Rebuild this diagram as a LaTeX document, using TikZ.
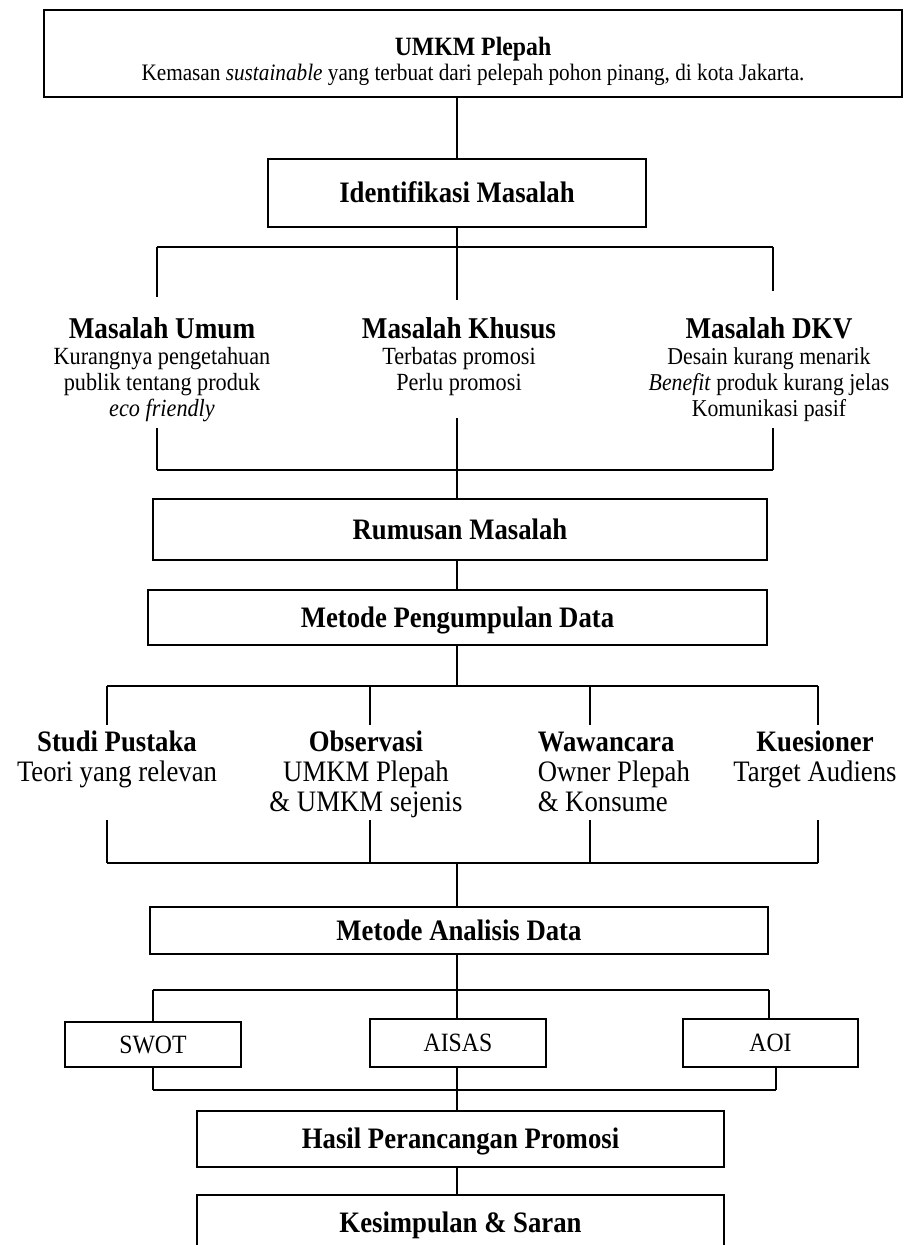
\documentclass[tikz,border=0pt]{standalone}
\usepackage{fontspec}
\setmainfont{Liberation Serif}[FakeStretch=0.9]
\newcommand{\fs}[1]{\fontsize{#1}{#1}\selectfont}
\newcommand{\cstack}[2][26pt]{\vtop{\baselineskip=#1\relax\lineskiplimit=-100pt\lineskip=0pt\halign{\hfil##\hfil\cr#2\crcr}}}
\newcommand{\lstack}[2][26pt]{\vtop{\baselineskip=#1\relax\lineskiplimit=-100pt\lineskip=0pt\halign{##\hfil\cr#2\crcr}}}
\begin{document}
\begin{tikzpicture}[x=1pt,y=-1pt,line width=1.5pt,
  box/.style={draw,line width=1.5pt,inner sep=0pt,text height=23pt,text depth=4pt,font=\bfseries\fs{29.7}},
  smallbox/.style={draw,line width=1.5pt,inner sep=0pt,text height=21pt,text depth=4pt,font=\fs{26.4}},
  lbl/.style={inner sep=0pt,anchor=base},
  conn/.style={line width=1.5pt}]
\useasboundingbox (0,0) rectangle (904,1245);
\fill[white] (0,0) rectangle (904,1245);
\clip (0,0) rectangle (904,1245);

% ---- boxes
\node[box,minimum width=858pt,minimum height=87pt,text height=30pt,text depth=27pt,font=\fs{23.6}] (umkm) at (473,53.5)
  {\cstack[25pt]{\fs{26.4}\bfseries UMKM Plepah\cr Kemasan \textit{sustainable} yang terbuat dari pelepah pohon pinang, di kota Jakarta.}};
\node[box,minimum width=378pt,minimum height=68pt] (ident) at (457,193) {Identifikasi Masalah};
\node[box,minimum width=614pt,minimum height=61pt] (rumusan) at (460,529.5) {Rumusan Masalah};
\node[box,minimum width=619pt,minimum height=55pt] (mpd) at (457.5,617.5) {Metode Pengumpulan Data};
\node[box,minimum width=618pt,minimum height=47pt] (mad) at (459,930.5) {Metode Analisis Data};
\node[smallbox,minimum width=176pt,minimum height=45pt] (swot) at (153,1044.5) {SWOT};
\node[smallbox,minimum width=176pt,minimum height=48pt] (aisas) at (458,1043) {AISAS};
\node[smallbox,minimum width=175pt,minimum height=48pt] (aoi) at (770.5,1043) {AOI};
\node[box,minimum width=527pt,minimum height=56pt] (hasil) at (460.5,1139) {Hasil Perancangan Promosi};
\node[box,minimum width=527pt,minimum height=56pt] (kes) at (460.5,1223) {Kesimpulan \& Saran};

% ---- problem texts
\node[lbl,font=\fs{24.7}] (mu) at (162,338) {\cstack[26pt]{\fs{30.2}\bfseries Masalah Umum\cr\noalign{\kern0.5pt}Kurangnya pengetahuan\cr publik tentang produk\cr \textit{eco friendly}}};
\node[lbl,font=\fs{24.7}] (mk) at (459,338) {\cstack[26pt]{\fs{30.2}\bfseries Masalah Khusus\cr\noalign{\kern0.5pt}Terbatas promosi\cr Perlu promosi}};
\node[lbl,font=\fs{24.2}] (dkv) at (769,338) {\cstack[26pt]{\fs{30.2}\bfseries Masalah DKV\cr\noalign{\kern0.5pt}Desain kurang menarik\cr \textit{Benefit} produk kurang jelas\cr Komunikasi pasif}};

% ---- data collection texts
\node[lbl,font=\fs{29.7}] (sp) at (117,751.5) {\cstack[30pt]{\bfseries Studi Pustaka\cr Teori yang relevan}};
\node[lbl,font=\fs{29.7}] (obs) at (366,751.5) {\cstack[30pt]{\bfseries Observasi\cr UMKM Plepah\cr \& UMKM sejenis}};
\node[lbl,anchor=base west,font=\fs{29.7}] (waw) at (537,751.5) {\lstack[30pt]{\bfseries Wawancara\cr Owner Plepah\cr \& Konsume}};
\node[lbl,font=\fs{29.7}] (kue) at (815,751.5) {\cstack[30pt]{\bfseries Kuesioner\cr Target Audiens}};

% ---- junction coordinates
\coordinate (a1) at (157,247); \coordinate (a2) at (457,247); \coordinate (a3) at (773,247);
\coordinate (a1e) at (157,297); \coordinate (a2e) at (457,300); \coordinate (a3e) at (773,291);
\coordinate (b1s) at (157,428); \coordinate (b2s) at (457,418); \coordinate (b3s) at (773,428);
\coordinate (b1) at (157,470); \coordinate (b2) at (457,470); \coordinate (b3) at (773,470);
\coordinate (c1) at (107,686); \coordinate (c2) at (370,686); \coordinate (c3) at (590,686); \coordinate (c4) at (818,686); \coordinate (cc) at (457,686);
\coordinate (c1e) at (107,725); \coordinate (c2e) at (370,725); \coordinate (c3e) at (590,725); \coordinate (c4e) at (818,725);
\coordinate (d1s) at (107,820); \coordinate (d2s) at (370,820); \coordinate (d3s) at (590,820); \coordinate (d4s) at (818,820);
\coordinate (d1) at (107,863); \coordinate (d2) at (370,863); \coordinate (d3) at (590,863); \coordinate (d4) at (818,863); \coordinate (dc) at (457,863);
\coordinate (e1) at (153,990); \coordinate (e2) at (457,990); \coordinate (e3) at (769,990);
\coordinate (f1) at (153,1090); \coordinate (f2) at (457,1090); \coordinate (f3) at (776,1090);

% ---- connectors
\draw[conn] (umkm.south -| ident.north) -- (ident.north);
\draw[conn] (ident.south) -- (a2);
\draw[conn] (a1) -- (a3);
\draw[conn] (a1) -- (a1e); \draw[conn] (a2) -- (a2e); \draw[conn] (a3) -- (a3e);
\draw[conn] (b1s) -- (b1); \draw[conn] (b2s) -- (b2); \draw[conn] (b3s) -- (b3);
\draw[conn] (b1) -- (b3);
\draw[conn] (b2) -- (b2 |- rumusan.north);
\draw[conn] (b2 |- rumusan.south) -- (b2 |- mpd.north);
\draw[conn] (b2 |- mpd.south) -- (cc);
\draw[conn] (c1) -- (c4);
\draw[conn] (c1) -- (c1e); \draw[conn] (c2) -- (c2e); \draw[conn] (c3) -- (c3e); \draw[conn] (c4) -- (c4e);
\draw[conn] (d1s) -- (d1); \draw[conn] (d2s) -- (d2); \draw[conn] (d3s) -- (d3); \draw[conn] (d4s) -- (d4);
\draw[conn] (d1) -- (d4);
\draw[conn] (dc) -- (dc |- mad.north);
\draw[conn] (dc |- mad.south) -- (e2);
\draw[conn] (e1) -- (e3);
\draw[conn] (e1) -- (e1 |- swot.north); \draw[conn] (e2) -- (e2 |- aisas.north); \draw[conn] (e3) -- (e3 |- aoi.north);
\draw[conn] (f1 |- swot.south) -- (f1); \draw[conn] (f2 |- aisas.south) -- (f2); \draw[conn] (f3 |- aoi.south) -- (f3);
\draw[conn] (f1) -- (f3);
\draw[conn] (f2) -- (f2 |- hasil.north);
\draw[conn] (f2 |- hasil.south) -- (f2 |- kes.north);
\end{tikzpicture}
\end{document}
